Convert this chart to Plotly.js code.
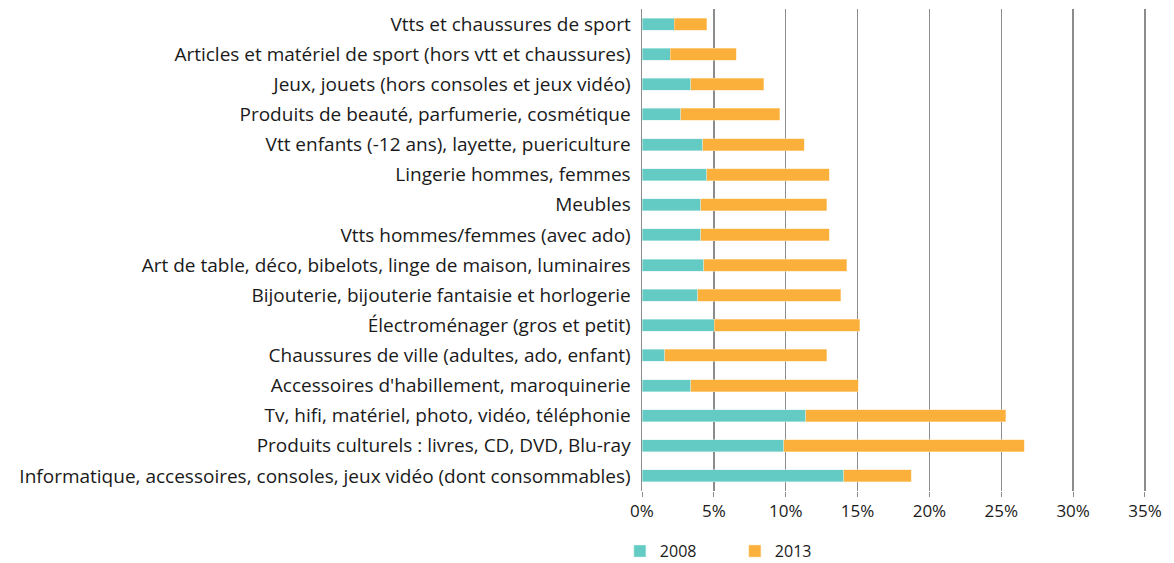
<!DOCTYPE html>
<html>
<head>
<meta charset="utf-8">
<script src="https://cdn.plot.ly/plotly-3.0.1.min.js"></script>
<style>html,body{margin:0;padding:0;background:#fff;}#chart{width:1174px;height:563px;}</style>
</head>
<body>
<div id="chart"></div>
<script>
const categories = [
  "Vtts et chaussures de sport",
  "Articles et matériel de sport (hors vtt et chaussures)",
  "Jeux, jouets (hors consoles et jeux vidéo)",
  "Produits de beauté, parfumerie, cosmétique",
  "Vtt enfants (-12 ans), layette, puericulture",
  "Lingerie hommes, femmes",
  "Meubles",
  "Vtts hommes/femmes (avec ado)",
  "Art de table, déco, bibelots, linge de maison, luminaires",
  "Bijouterie, bijouterie fantaisie et horlogerie",
  "Électroménager (gros et petit)",
  "Chaussures de ville (adultes, ado, enfant)",
  "Accessoires d'habillement, maroquinerie",
  "Tv, hifi, matériel, photo, vidéo, téléphonie",
  "Produits culturels : livres, CD, DVD, Blu-ray",
  "Informatique, accessoires, consoles, jeux vidéo (dont consommables)"
];
const values2008 = [2.25, 1.96, 3.39, 2.69, 4.21, 4.50, 4.09, 4.09, 4.31, 3.89, 5.01, 1.57, 3.39, 11.39, 9.87, 14.03];
const values2013 = [2.27, 4.60, 5.08, 6.89, 7.09, 8.54, 8.75, 8.95, 9.94, 9.95, 10.13, 11.27, 11.66, 13.91, 16.74, 4.69];
const seriesNames = ["2008", "2013"];
const tickVals = [0, 5, 10, 15, 20, 25, 30, 35];
const tickText = ["0%", "5%", "10%", "15%", "20%", "25%", "30%", "35%"];

const font = "Open Sans, Noto Sans, sans-serif";
const data = [
  {type: "bar", orientation: "h", name: seriesNames[0], y: categories, x: values2008,
   marker: {color: "#63CBC4", line: {color: "#d8f2f0", width: 0.5}}},
  {type: "bar", orientation: "h", name: seriesNames[1], y: categories, x: values2013,
   marker: {color: "#FBB03B", line: {color: "#fde0b0", width: 0.5}}}
];
const layout = {
  width: 1174, height: 563,
  margin: {l: 642, r: 28, t: 9, b: 72},
  barmode: "stack",
  bargap: 0.6,
  paper_bgcolor: "#fff", plot_bgcolor: "#fff",
  font: {family: font, size: 16, color: "#1a1a1a"},
  xaxis: {range: [0, 35.07], tickvals: tickVals, ticktext: tickText,
    showgrid: true, gridcolor: "#8c8c8c", gridwidth: 1.5,
    zeroline: false, showline: false,
    ticks: "outside", ticklen: 5, tickcolor: "#8c8c8c", tickwidth: 1,
    tickfont: {size: 17, color: "#1a1a1a"}, fixedrange: true},
  yaxis: {autorange: "reversed", type: "category", showgrid: false, showline: true,
    linecolor: "#8c8c8c", linewidth: 1.5,
    ticks: "", ticklabelstandoff: 6, tickfont: {size: 19, color: "#1a1a1a"}, fixedrange: true},
  showlegend: true,
  legend: {orientation: "h", xref: "container", yref: "container", x: 0.528, y: 0.021,
    xanchor: "left", yanchor: "middle", entrywidth: 70, traceorder: "normal",
    font: {size: 16, color: "#1a1a1a"}}
};
Plotly.newPlot("chart", data, layout, {displayModeBar: false, staticPlot: true});
</script>
</body>
</html>
